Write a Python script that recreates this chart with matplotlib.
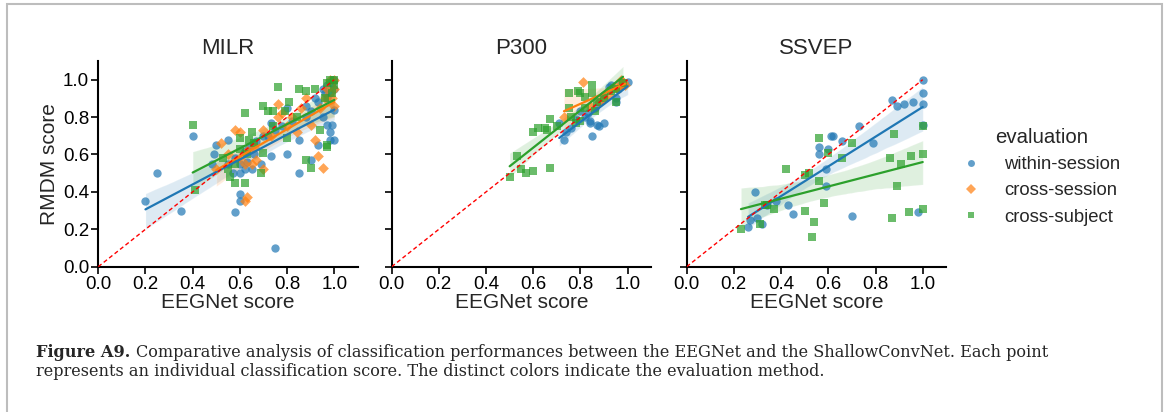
import numpy as np
import matplotlib
matplotlib.use("Agg")
import matplotlib.pyplot as plt
import seaborn as sns
from matplotlib.lines import Line2D
from matplotlib.patches import Rectangle

# EEGNet score (x) vs RMDM score (y), per paradigm and evaluation method
milr_within_x = [0.20, 0.25, 0.35, 0.40, 0.75, 0.58, 0.60, 0.60, 0.50, 0.49, 0.48, 0.55, 0.57, 0.60,
                 0.60, 0.62, 0.65, 0.66, 0.69, 0.73, 0.73, 0.80, 0.80, 0.85, 0.85, 0.88, 0.90, 0.93,
                 0.95, 0.97, 0.98, 0.98, 0.99, 1.00, 1.00, 0.97, 0.95, 0.99, 1.00, 0.62, 0.64, 0.58,
                 0.55, 0.70, 0.78, 0.82, 0.90, 0.63, 0.67, 0.72, 0.75, 0.92, 0.96, 0.97, 0.98, 1.00,
                 0.93, 0.88, 0.99]
milr_within_y = [0.35, 0.50, 0.30, 0.70, 0.10, 0.29, 0.39, 0.35, 0.65, 0.60, 0.55, 0.68, 0.50, 0.50,
                 0.55, 0.52, 0.52, 0.60, 0.55, 0.59, 0.77, 0.60, 0.85, 0.50, 0.68, 0.80, 0.57, 0.65,
                 0.80, 0.76, 0.72, 0.68, 0.76, 0.68, 0.84, 0.90, 0.95, 0.98, 1.00, 0.62, 0.64, 0.58,
                 0.55, 0.70, 0.75, 0.78, 0.83, 0.56, 0.67, 0.70, 0.73, 0.90, 0.93, 0.97, 0.93, 0.95,
                 0.88, 0.86, 1.00]
milr_session_x = [0.52, 0.50, 0.55, 0.58, 0.60, 0.62, 0.63, 0.62, 0.65, 0.67, 0.70, 0.70, 0.76, 0.76,
                  0.80, 0.84, 0.86, 0.88, 0.90, 0.92, 0.93, 0.95, 0.94, 0.97, 0.98, 1.00, 1.00, 1.00,
                  0.99, 0.60, 0.63, 0.66, 0.73, 0.78, 0.82, 0.96]
milr_session_y = [0.66, 0.52, 0.60, 0.73, 0.72, 0.35, 0.37, 0.55, 0.55, 0.57, 0.73, 0.52, 0.87, 0.80,
                  0.75, 0.72, 0.85, 0.90, 0.76, 0.68, 0.59, 0.53, 0.85, 0.95, 1.00, 1.00, 0.95, 0.86,
                  0.90, 0.58, 0.62, 0.64, 0.70, 0.82, 0.80, 0.90]
milr_subject_x = [0.40, 0.41, 0.58, 0.62, 0.60, 0.62, 0.55, 0.53, 0.60, 0.65, 0.66, 0.70, 0.70, 0.69,
                  0.72, 0.74, 0.76, 0.80, 0.79, 0.81, 0.85, 0.88, 0.88, 0.90, 0.92, 0.94, 0.97, 0.97,
                  0.96, 0.97, 0.98, 1.00, 1.00, 0.99, 0.63, 0.58, 0.74, 0.84, 0.64, 0.56]
milr_subject_y = [0.76, 0.41, 0.45, 0.45, 0.69, 0.82, 0.52, 0.58, 0.63, 0.72, 0.66, 0.86, 0.61, 0.50,
                  0.83, 0.83, 0.96, 0.69, 0.83, 0.88, 0.95, 0.94, 0.57, 0.53, 0.95, 0.73, 0.64, 0.65,
                  0.90, 0.98, 1.00, 1.00, 0.97, 0.93, 0.60, 0.55, 0.75, 0.80, 0.68, 0.48]

p300_within_x = [0.71, 0.74, 0.85, 0.87, 0.90, 0.88, 0.82, 0.84, 0.95, 0.95, 0.97, 1.00, 0.90, 0.92,
                 0.93, 0.86, 0.80, 0.78, 0.88, 0.83, 0.96, 0.98, 0.76, 0.84, 0.73]
p300_within_y = [0.77, 0.72, 0.70, 0.76, 0.77, 0.75, 0.80, 0.78, 0.90, 0.88, 0.98, 0.99, 0.92, 0.96,
                 0.97, 0.85, 0.83, 0.79, 0.88, 0.82, 0.95, 0.97, 0.74, 0.77, 0.68]
p300_session_x = [0.73, 0.81, 0.84, 0.88, 0.92, 0.95, 0.97, 0.98, 0.99, 0.97, 0.96, 0.90]
p300_session_y = [0.80, 0.99, 0.86, 0.88, 0.92, 0.96, 0.97, 0.99, 0.97, 1.00, 0.95, 0.90]
p300_subject_x = [0.50, 0.53, 0.55, 0.57, 0.60, 0.67, 0.60, 0.62, 0.65, 0.67, 0.66, 0.75, 0.79, 0.80,
                  0.82, 0.85, 0.85, 0.90, 0.93, 0.75, 0.70, 0.78, 0.80, 0.87, 0.95, 0.95, 0.98, 0.86,
                  0.76, 0.82]
p300_subject_y = [0.48, 0.59, 0.52, 0.50, 0.51, 0.53, 0.72, 0.74, 0.74, 0.79, 0.73, 0.93, 0.94, 0.93,
                  0.91, 0.97, 0.93, 0.90, 0.94, 0.85, 0.75, 0.77, 0.78, 0.88, 0.95, 0.88, 0.98, 0.83,
                  0.80, 0.85]

ssvep_within_x = [1.00, 1.00, 1.00, 0.87, 0.89, 0.92, 0.96, 1.00, 0.73, 0.61, 0.62, 0.66, 0.79, 0.56,
                  0.60, 0.56, 0.59, 0.59, 0.29, 0.43, 0.45, 0.70, 0.98, 0.38, 0.34, 0.30, 0.27, 0.26,
                  0.32]
ssvep_within_y = [1.00, 0.93, 0.87, 0.89, 0.86, 0.87, 0.88, 0.76, 0.75, 0.70, 0.70, 0.67, 0.66, 0.64,
                  0.63, 0.60, 0.52, 0.43, 0.40, 0.33, 0.28, 0.27, 0.29, 0.35, 0.33, 0.26, 0.25, 0.21,
                  0.23]
ssvep_subject_x = [0.23, 0.31, 0.33, 0.37, 0.42, 0.50, 0.52, 0.50, 0.54, 0.53, 0.56, 0.56, 0.58, 0.60,
                   0.66, 0.70, 0.86, 0.88, 0.91, 0.89, 0.87, 0.94, 0.95, 1.00, 1.00, 1.00, 0.34]
ssvep_subject_y = [0.20, 0.23, 0.33, 0.31, 0.52, 0.49, 0.50, 0.30, 0.24, 0.16, 0.69, 0.46, 0.34, 0.61,
                   0.58, 0.66, 0.58, 0.71, 0.55, 0.43, 0.26, 0.29, 0.59, 0.75, 0.60, 0.31, 0.33]

paradigms = ["MILR", "P300", "SSVEP"]
evaluations = ["within-session", "cross-session", "cross-subject"]
panels = {
    "MILR": {"within-session": (milr_within_x, milr_within_y),
             "cross-session": (milr_session_x, milr_session_y),
             "cross-subject": (milr_subject_x, milr_subject_y)},
    "P300": {"within-session": (p300_within_x, p300_within_y),
             "cross-session": (p300_session_x, p300_session_y),
             "cross-subject": (p300_subject_x, p300_subject_y)},
    "SSVEP": {"within-session": (ssvep_within_x, ssvep_within_y),
              "cross-subject": (ssvep_subject_x, ssvep_subject_y)},
}
caption_head = "Figure A9."
caption_line1 = ("Comparative analysis of classification performances between the EEGNet "
                 "and the ShallowConvNet. Each point")
caption_line2 = ("represents an individual classification score. The distinct colors "
                 "indicate the evaluation method.")

colors = {"within-session": "#1f77b4", "cross-session": "#ff7f0e", "cross-subject": "#2ca02c"}
markers = {"within-session": "o", "cross-session": "D", "cross-subject": "s"}
sizes = {"within-session": 36, "cross-session": 30, "cross-subject": 38}

sns.set_style("ticks")
plt.rcParams["font.family"] = ["Liberation Sans", "DejaVu Sans"]

fig = plt.figure(figsize=(11.67, 4.12), dpi=100)
lefts = [0.0842, 0.3356, 0.5884]
ticks = np.arange(0, 1.01, 0.2)
for i, name in enumerate(paradigms):
    ax = fig.add_axes([lefts[i], 0.3527, 0.2225, 0.4993])
    for ev in evaluations:
        if ev not in panels[name]:
            continue
        x, y = panels[name][ev]
        ax.scatter(x, y, s=sizes[ev], marker=markers[ev], color=colors[ev],
                   alpha=0.7, linewidths=0, zorder=3)
        sns.regplot(x=np.array(x), y=np.array(y), ax=ax, scatter=False, ci=95,
                    seed=0, truncate=True, color=colors[ev],
                    line_kws={"linewidth": 1.6, "zorder": 4})
    ax.plot([0, 1], [0, 1], color="red", linestyle="--", linewidth=1.0,
            dashes=(3, 2), zorder=5)
    ax.set_xlim(0, 1.1)
    ax.set_ylim(0, 1.1)
    ax.set_xticks(ticks)
    ax.set_yticks(ticks)
    ax.set_title(name, fontsize=16, pad=5)
    ax.set_xlabel("EEGNet score", fontsize=15, labelpad=0)
    ax.set_ylabel("")
    ax.tick_params(labelsize=13.5, length=5, width=1.2, colors="black", pad=1.5)
    for side in ["top", "right"]:
        ax.spines[side].set_visible(False)
    for side in ["left", "bottom"]:
        ax.spines[side].set_linewidth(1.5)
        ax.spines[side].set_color("black")
    if i == 0:
        ax.set_yticklabels([f"{v:.1f}" for v in ticks])
        ax.set_ylabel("RMDM score", fontsize=15, labelpad=3)
    else:
        ax.set_yticklabels([])
    ax.set_xticklabels([f"{v:.1f}" for v in ticks])

handles = [Line2D([], [], linestyle="none", marker=markers[ev], color=colors[ev],
                  alpha=0.7, markersize=5, markeredgewidth=0) for ev in evaluations]
leg = fig.legend(handles, evaluations, title="evaluation", loc="upper left",
                 bbox_to_anchor=(0.81, 0.73), frameon=False, fontsize=13.3,
                 title_fontsize=14.7, handletextpad=1.3, labelspacing=0.5,
                 handlelength=1.0)

# caption under the panels: bold head, body continues right after it
cap_font = dict(fontsize=11.6, family="DejaVu Serif", va="baseline")
head = fig.text(0.031, 0.133, caption_head, fontweight="bold", **cap_font)
fig.canvas.draw()
head_box = head.get_window_extent().transformed(fig.transFigure.inverted())
fig.text(head_box.x1 + 0.005, 0.133, caption_line1, **cap_font)
fig.text(0.031, 0.088, caption_line2, **cap_font)

# thin frame around the figure
fig.patches.append(Rectangle((0.006, -0.01), 0.99, 1.0, transform=fig.transFigure,
                             fill=False, edgecolor="#bdbdbd", linewidth=1.5))

fig.savefig("out.png", dpi=100)
